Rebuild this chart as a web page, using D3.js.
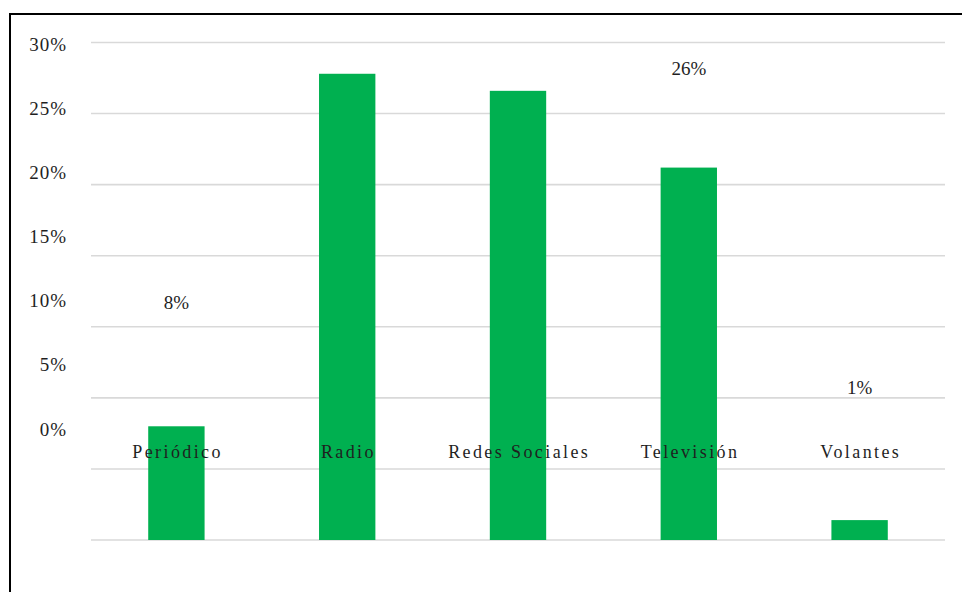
<!DOCTYPE html>
<html>
<head>
<meta charset="utf-8">
<script src="https://cdn.jsdelivr.net/npm/d3@7"></script>
<style>
  html, body { margin: 0; padding: 0; background: #fff; }
  svg { display: block; }
  text { font-family: "Liberation Serif", "DejaVu Serif", serif; fill: #1f1f1f; }
</style>
</head>
<body>
<svg id="chart" width="962" height="592"></svg>
<script>
// Medio por el que se informa (porcentaje de encuestados)
const categories = ["Periódico", "Radio", "Redes Sociales", "Televisión", "Volantes"];
const values = [8.0, 32.8, 31.6, 26.2, 1.4];
const gridTicks = [0, 5, 10, 15, 20, 25, 30, 35];
const tickLabels = [0, 5, 10, 15, 20, 25, 30];

const W = 962, H = 592;
const svg = d3.select("#chart");
const serif = "'Liberation Serif', 'DejaVu Serif', serif";

// Frame
const frame = { x: 10, y: 14 };

// Bars sit on the gridline scale
const x = d3.scaleBand().domain(categories).range([91, 945])
  .paddingInner(0.67).paddingOuter(0.335);
const y = d3.scaleLinear().domain([0, 35]).range([540, 42.5]);

// Text layer uses its own compressed scale
const yText = d3.scaleLinear().domain([0, 30]).range([428, 43]);

// Gridlines
svg.append("g").selectAll("line").data(gridTicks).join("line")
  .attr("x1", 91).attr("x2", 945)
  .attr("y1", d => y(d)).attr("y2", d => y(d))
  .attr("stroke", "#d9d9d9").attr("stroke-width", 1.6);

// Bars
svg.append("g").selectAll("rect").data(values).join("rect")
  .attr("x", (d, i) => x(categories[i]))
  .attr("width", x.bandwidth())
  .attr("y", d => y(d))
  .attr("height", d => y(0) - y(d))
  .attr("fill", "#00b050");

// Y tick labels
const yAxis = d3.axisLeft(yText).tickValues(tickLabels)
  .tickFormat(d => d + "%").tickSize(0).tickPadding(0);
const gy = svg.append("g").attr("transform", "translate(67,0)").call(yAxis);
gy.attr("font-family", null);
gy.select(".domain").remove();
gy.selectAll("text")
  .attr("dy", "0.37em")
  .style("font-family", serif)
  .style("font-size", "19px")
  .style("letter-spacing", "1px")
  .attr("fill", "#1f1f1f");

// Category labels
svg.append("g").selectAll("text").data(categories).join("text")
  .attr("x", d => x(d) + x.bandwidth() / 2 + 1.2)
  .attr("y", yText(0) + 30)
  .attr("text-anchor", "middle")
  .style("font-family", serif)
  .style("font-size", "18px")
  .style("letter-spacing", "2.4px")
  .text(d => d);

// Value labels: only those that land inside the frame are drawn
const labelY = d => yText(d) - 16.5;
const labelled = values
  .map((v, i) => ({ cat: categories[i], v }))
  .filter(d => labelY(d.v) - 14 > frame.y);
svg.append("g")
  .selectAll("text").data(labelled).join("text")
  .attr("x", d => x(d.cat) + x.bandwidth() / 2)
  .attr("y", d => labelY(d.v))
  .attr("text-anchor", "middle")
  .style("font-family", serif)
  .style("font-size", "19px")
  .text(d => d3.format(".0f")(d.v) + "%");

// Frame border (left and top edges)
svg.append("path")
  .attr("d", `M${frame.x},${H} V${frame.y} H${W}`)
  .attr("fill", "none").attr("stroke", "#000").attr("stroke-width", 2);
</script>
</body>
</html>
